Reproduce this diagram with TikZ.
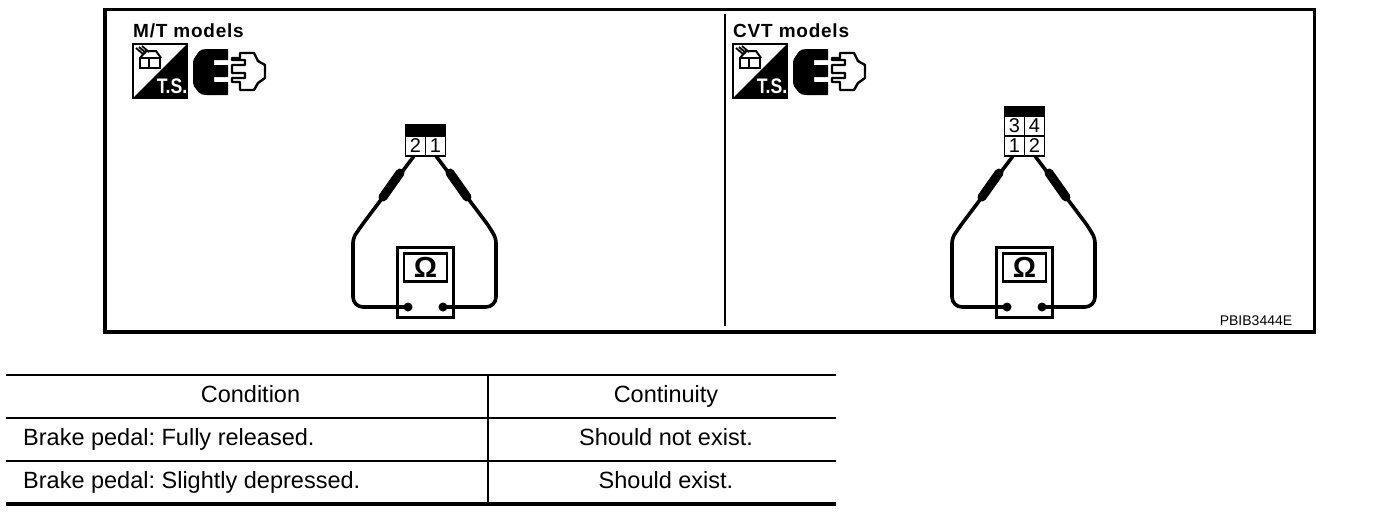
\documentclass[tikz,border=0pt]{standalone}
\usepackage{fontspec}
\setmainfont{Liberation Sans}
\tikzset{
  x=1pt,y=-1pt,
  frameline/.style={draw=black,line width=3.4pt},
  wire/.style={draw=black,line width=3.6pt,rounded corners=5pt},
  probe/.style={draw=black,line width=9pt,line cap=round},
  cell/.style={draw=black,line width=1.8pt,fill=white,minimum width=20pt,minimum height=20pt,inner sep=0pt,font=\fontsize{20}{20}\selectfont},
  capbar/.style={fill=black,draw=black},
  dot/.style={circle,fill=black,minimum size=9pt,inner sep=0pt},
  meterbox/.style={draw=black,line width=2.4pt,fill=white,minimum width=56pt,minimum height=70pt,inner sep=0pt},
  meterscreen/.style={draw=black,line width=2.6pt,fill=white,minimum width=43pt,minimum height=28pt,inner sep=0pt,font=\bfseries\fontsize{29}{29}\selectfont},
  headbold/.style={font=\bfseries\fontsize{19}{19}\selectfont,anchor=base west,inner sep=0pt},
  tabletext/.style={font=\fontsize{23.5}{25}\selectfont,inner sep=0pt,anchor=base},
  thinrule/.style={draw=black,line width=1.2pt},
  thickrule/.style={draw=black,line width=2.4pt},
}
\newcommand{\modelicons}[2]{%
  \begin{scope}[xshift=#1pt]
    \node[headbold] (head#2) at (133,37) {\addfontfeature{LetterSpace=4}#2 models};
    \fill[white] (133,44) rectangle (187,98);
    \draw[black,line width=2.4pt] (133,44) rectangle (187,98);
    \fill[black] (187,44) -- (187,98) -- (133,98) -- cycle;
    \node[white,inner sep=0pt,xscale=.84,font=\bfseries\fontsize{21}{21}\selectfont] (ts#2) at (172,86.5) {T.S.};
    \draw[black,line width=2pt,fill=white] (140,58) rectangle (149,68) (149,58) rectangle (160,68);
    \draw[black,line width=2pt] (140,58) -- (146,51) -- (156,51) -- (161,58);
    \draw[black,line width=1.8pt] (136,48) -- (143,54) (139,47) -- (146,53) (142,46) -- (149,52);
    \fill[black,rounded corners=2pt] (193,60) -- (200,50) -- (205,49) -- (214,49) -- (214,95) -- (205,95) -- (200,94) -- (193,85) -- cycle;
    \fill[black] (212,49) rectangle (228,60) (212,65) rectangle (228,77) (212,82) rectangle (228,95);
    \draw[black,line width=2.4pt,fill=white,line join=round] (240,53) -- (254,53) -- (258,61) -- (265,65) -- (265,78) -- (258,83) -- (254,90) -- (240,90) -- (240,82) -- (232,82) -- (232,78) -- (245,78) -- (245,73) -- (232,73) -- (232,65) -- (245,65) -- (245,60) -- (232,60) -- (232,58) -- (240,58) -- cycle;
  \end{scope}}
\newcommand{\meterset}[2]{%
  \begin{scope}[xshift=#1pt]
    \node[meterbox] (box#2) at (425.5,282.5) {};
    \node[meterscreen] (screen#2) at (425.5,267.5) {Ω};
    \node[dot] (dl#2) at (408,307) {};
    \node[dot] (dr#2) at (443,307) {};
    \coordinate (pl#2) at (414,156);
    \coordinate (pr#2) at (436,156);
    \draw[wire] (pl#2) -- (362,225) -- (353,238) [rounded corners=10pt] -- (353,307) -- (dl#2.center);
    \draw[wire] (pr#2) -- (488,225) -- (496,238) [rounded corners=10pt] -- (496,307) -- (dr#2.center);
    \coordinate (fl1#2) at (400,173);
    \coordinate (fl2#2) at (383,197);
    \coordinate (fr1#2) at (450,173);
    \coordinate (fr2#2) at (467,197);
    \draw[probe] (fl1#2) -- (fl2#2);
    \draw[probe] (fr1#2) -- (fr2#2);
  \end{scope}}
\begin{document}
\frenchspacing
\begin{tikzpicture}[x=1pt,y=-1pt]
\useasboundingbox (0,0) rectangle (1376,512);
\fill[white] (0,0) rectangle (1376,512);
\draw[frameline] (105,9.5) rectangle (1314.5,332);
\coordinate (divt) at (725,14);
\coordinate (divb) at (725,326);
\draw[black,line width=1.6pt] (divt) -- (divb);
\modelicons{0}{M/T}
\modelicons{600}{CVT}
\meterset{0}{A}
\meterset{599}{B}
% M/T connector
\fill[capbar] (405.5,124.5) rectangle (445.5,136);
\node[cell] (mt2) at (415.5,146) {2};
\node[cell] (mt1) at (435.5,146) {1};
% CVT connector
\fill[capbar] (1004.5,106.5) rectangle (1044.5,116);
\node[cell] (cv3) at (1014.5,126) {3};
\node[cell] (cv4) at (1034.5,126) {4};
\node[cell] (cv1) at (1014.5,146) {1};
\node[cell] (cv2) at (1034.5,146) {2};
\node[inner sep=0pt,font=\fontsize{14}{14}\selectfont] (code) at (1256,321) {PBIB3444E};
% Table
\draw[thickrule] (6,375) -- (836,375);
\draw[thinrule] (6,418) -- (836,418);
\draw[thinrule] (6,461) -- (836,461);
\draw[black,line width=3.5pt] (6,504) -- (836,504);
\draw[thinrule] (488,375) -- (488,503);
\node[tabletext] (h1) at (250.5,402) {Condition};
\node[tabletext] (h2) at (666,402) {Continuity};
\node[tabletext,anchor=base west] (r1) at (23,445) {Brake pedal: Fully released.};
\node[tabletext] (v1) at (666,445) {Should not exist.};
\node[tabletext,anchor=base west] (r2) at (23,488.5) {Brake pedal: Slightly depressed.};
\node[tabletext] (v2) at (666,488.5) {Should exist.};
\end{tikzpicture}
\end{document}
